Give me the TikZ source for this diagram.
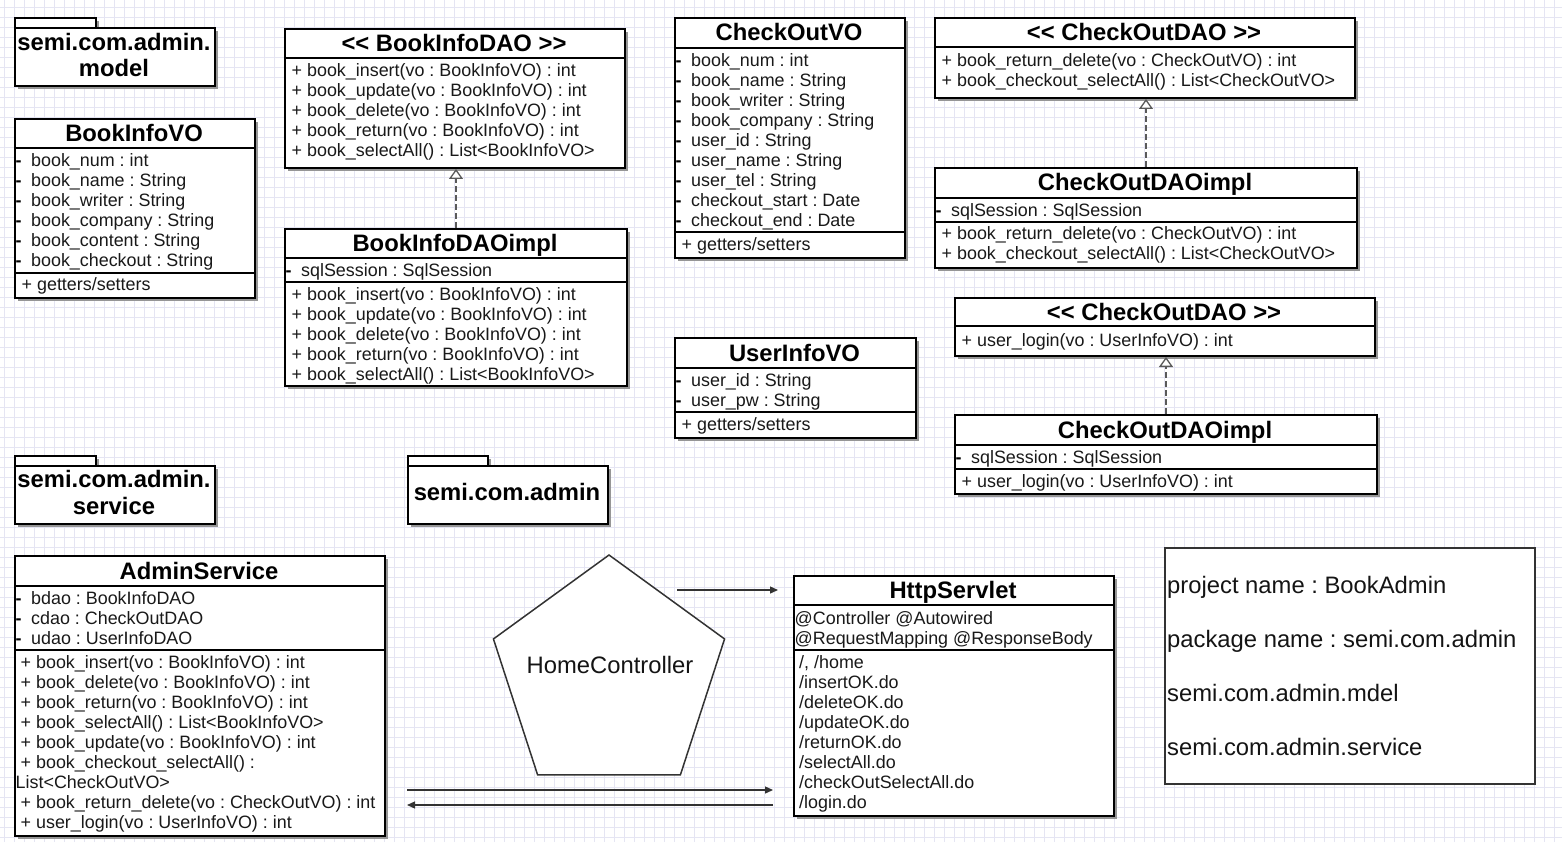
\documentclass[tikz,border=0pt]{standalone}
\usepackage{fontspec}
\setmainfont{Liberation Sans}
\usetikzlibrary{arrows.meta,shadows,shapes.geometric}
\definecolor{gridc}{RGB}{229,229,243}
\definecolor{shd}{RGB}{150,150,150}
\definecolor{dk}{RGB}{51,51,51}
\definecolor{dashc}{RGB}{90,90,90}
\frenchspacing
\tikzset{
  cbox/.style={draw=black, line width=2pt, fill=white, inner sep=0pt, anchor=north west,
    drop shadow={shadow xshift=3pt, shadow yshift=-3pt, fill=shd, opacity=1}},
  sepl/.style={draw=black, line width=2pt},
  ttl/.style={font=\bfseries\fontsize{23.8}{27}\selectfont, anchor=base, inner sep=0pt},
  ptxt/.style={font=\bfseries\fontsize{23.8}{27}\selectfont, anchor=base, inner sep=0pt},
  ltxt/.style={font=\fontsize{17.9}{20}\selectfont, text=black!90, anchor=base west, inner sep=0pt},
  big/.style={font=\fontsize{23.8}{27}\selectfont, text=black!92, anchor=base west, inner sep=0pt},
  flow/.style={draw=dk, line width=1.3pt, -{Triangle[length=8pt,width=7pt]}},
  impl/.style={draw=dashc, line width=1.8pt, dash pattern=on 6pt off 3pt,
    -{Triangle[open, length=10pt, width=14pt, fill=white, line width=1.3pt]}},
  pent/.style={regular polygon, regular polygon sides=5, draw=dk, line width=1.5pt, fill=white,
    minimum size=243pt, inner sep=0pt}
}
\newcommand\dm{\textcolor{black}{\textbf{-}}\hspace{9.5pt}}
\newcommand\cbx[5]{\node[cbox, minimum width=#4pt, minimum height=#5pt] (#1) at (#2,#3) {};}
\newcommand\ulines[4]{\foreach \t [count=\i] in {#4} {\node[ltxt] (#1-\i) at ({#2},{#3+6.4+20*(\i-1)}) {\t};}}
\begin{document}
\begin{tikzpicture}[x=1pt,y=-1pt]
\useasboundingbox (0,0) rectangle (1562,842);
\fill[white] (0,0) rectangle (1562,842);
\foreach \gx in {4,14,...,1554} \draw[gridc,line width=0.7pt] (\gx,0) -- (\gx,842);
\foreach \gy in {7,17,...,837} \draw[gridc,line width=0.7pt] (0,\gy) -- (1562,\gy);

% packages
\node[cbox, minimum width=81pt, minimum height=10pt] (pm-tab) at (14,17) {};
\node[cbox, minimum width=200pt, minimum height=58pt] (pm) at (14,27) {};
\node[ptxt] (pm-1) at (114,50.6) {semi.com.admin.};
\node[ptxt] (pm-2) at (114,76.6) {model};

\node[cbox, minimum width=81pt, minimum height=10pt] (ps-tab) at (14,455) {};
\node[cbox, minimum width=200pt, minimum height=58pt] (ps) at (14,465) {};
\node[ptxt] (ps-1) at (114,487.6) {semi.com.admin.};
\node[ptxt] (ps-2) at (114,514.6) {service};

\node[cbox, minimum width=80pt, minimum height=10pt] (pa-tab) at (407,455) {};
\node[cbox, minimum width=200pt, minimum height=58pt] (pa) at (407,465) {};
\node[ptxt] (pa-1) at (507,500.6) {semi.com.admin};

% BookInfoVO
\cbx{bvo}{14}{118}{240}{179}
\draw[sepl] (14,148) -- (254,148);
\draw[sepl] (14,273) -- (254,273);
\node[ttl] (bvo-t) at (134,141.6) {BookInfoVO};
\ulines{bvoa}{15.5}{160}{\dm book\_num : int, \dm book\_name : String, \dm book\_writer : String, \dm book\_company : String, \dm book\_content : String, \dm book\_checkout : String}
\ulines{bvom}{21.5}{284}{+ getters/setters}

% BookInfoDAO
\cbx{bdao}{284}{28}{340}{139}
\draw[sepl] (284,58) -- (624,58);
\node[ttl] (bdao-t) at (454,51.6) {<{}< BookInfoDAO >{}>};
\ulines{bdaom}{291.5}{70}{+ book\_insert(vo : BookInfoVO) : int, + book\_update(vo : BookInfoVO) : int, + book\_delete(vo : BookInfoVO) : int, + book\_return(vo : BookInfoVO) : int, + book\_selectAll() : List<BookInfoVO>}

% BookInfoDAOimpl
\cbx{bdaoi}{284}{228}{342}{157}
\draw[sepl] (284,258) -- (626,258);
\draw[sepl] (284,282) -- (626,282);
\node[ttl] (bdaoi-t) at (455,251.6) {BookInfoDAOimpl};
\ulines{bdaoia}{285.5}{270}{\dm sqlSession : SqlSession}
\ulines{bdaoim}{291.5}{294}{+ book\_insert(vo : BookInfoVO) : int, + book\_update(vo : BookInfoVO) : int, + book\_delete(vo : BookInfoVO) : int, + book\_return(vo : BookInfoVO) : int, + book\_selectAll() : List<BookInfoVO>}
\draw[impl] (bdaoi.north) -- (bdaoi.north |- bdao.south);

% CheckOutVO
\cbx{cvo}{674}{17}{230}{240}
\draw[sepl] (674,48) -- (904,48);
\draw[sepl] (674,232) -- (904,232);
\node[ttl] (cvo-t) at (789,41) {CheckOutVO};
\ulines{cvoa}{675.5}{60}{\dm book\_num : int, \dm book\_name : String, \dm book\_writer : String, \dm book\_company : String, \dm user\_id : String, \dm user\_name : String, \dm user\_tel : String, \dm checkout\_start : Date, \dm checkout\_end : Date}
\ulines{cvom}{681.5}{244}{+ getters/setters}

% CheckOutDAO (top)
\cbx{cdao}{934}{17}{420}{80}
\draw[sepl] (934,47) -- (1354,47);
\node[ttl] (cdao-t) at (1144,40.6) {<{}< CheckOutDAO >{}>};
\ulines{cdaom}{941.5}{60}{+ book\_return\_delete(vo : CheckOutVO) : int, + book\_checkout\_selectAll() : List<CheckOutVO>}

% CheckOutDAOimpl (top)
\cbx{cdaoi}{934}{167}{422}{100}
\draw[sepl] (934,198) -- (1356,198);
\draw[sepl] (934,222) -- (1356,222);
\node[ttl] (cdaoi-t) at (1145,191) {CheckOutDAOimpl};
\ulines{cdaoia}{935.5}{210}{\dm sqlSession : SqlSession}
\ulines{cdaoim}{941.5}{233.5}{+ book\_return\_delete(vo : CheckOutVO) : int, + book\_checkout\_selectAll() : List<CheckOutVO>}
\draw[impl] (cdaoi.north) -- (cdaoi.north |- cdao.south);

% CheckOutDAO (second)
\cbx{cdaob}{954}{297}{420}{58}
\draw[sepl] (954,326) -- (1374,326);
\node[ttl] (cdaob-t) at (1164,320) {<{}< CheckOutDAO >{}>};
\ulines{cdaobm}{961.5}{340}{+ user\_login(vo : UserInfoVO) : int}

% CheckOutDAOimpl (second)
\cbx{cdaoib}{954}{414}{422}{79}
\draw[sepl] (954,445) -- (1376,445);
\draw[sepl] (954,469) -- (1376,469);
\node[ttl] (cdaoib-t) at (1165,438) {CheckOutDAOimpl};
\ulines{cdaoiba}{955.5}{457}{\dm sqlSession : SqlSession}
\ulines{cdaoibm}{961.5}{481}{+ user\_login(vo : UserInfoVO) : int}
\draw[impl] (cdaoib.north) -- (cdaoib.north |- cdaob.south);

% UserInfoVO
\cbx{uvo}{674}{337}{241}{100}
\draw[sepl] (674,368) -- (915,368);
\draw[sepl] (674,412) -- (915,412);
\node[ttl] (uvo-t) at (794.5,361) {UserInfoVO};
\ulines{uvoa}{675.5}{380}{\dm user\_id : String, \dm user\_pw : String}
\ulines{uvom}{681.5}{424}{+ getters/setters}

% AdminService
\cbx{as}{14}{555}{370}{280}
\draw[sepl] (14,586) -- (384,586);
\draw[sepl] (14,650) -- (384,650);
\node[ttl] (as-t) at (199,579) {AdminService};
\ulines{asa}{15.5}{598}{\dm bdao : BookInfoDAO, \dm cdao : CheckOutDAO, \dm udao : UserInfoDAO}
\ulines{asm}{20.5}{662}{+ book\_insert(vo : BookInfoVO) : int, + book\_delete(vo : BookInfoVO) : int, + book\_return(vo : BookInfoVO) : int, + book\_selectAll() : List<BookInfoVO>, + book\_update(vo : BookInfoVO) : int, + book\_checkout\_selectAll() :}
\ulines{asl}{15.5}{782}{List<CheckOutVO>}
\ulines{asn}{20.5}{802}{+ book\_return\_delete(vo : CheckOutVO) : int, + user\_login(vo : UserInfoVO) : int}

% HttpServlet
\cbx{hs}{793}{575}{320}{240}
\draw[sepl] (793,605) -- (1113,605);
\draw[sepl] (793,650) -- (1113,650);
\node[ttl] (hs-t) at (953,598.6) {HttpServlet};
\ulines{hsa}{794.5}{618}{@Controller @Autowired, @RequestMapping @ResponseBody}
\ulines{hsm}{799}{662}{{/, /home}, /insertOK.do, /deleteOK.do, /updateOK.do, /returnOK.do, /selectAll.do, /checkOutSelectAll.do, /login.do}

% HomeController
\node[pent] (hc) at (609,676.5) {};
\node[font=\fontsize{23.8}{27}\selectfont, text=black!92, anchor=base, inner sep=0pt] (hc-t) at (610,673.6) {HomeController};

% arrows
\coordinate (f1s) at (677,590);
\coordinate (f1e) at (778,590);
\coordinate (f2s) at (407,790);
\coordinate (f2e) at (773,790);
\coordinate (f3s) at (773,805);
\coordinate (f3e) at (407,805);
\draw[flow] (f1s) -- (f1e);
\draw[flow] (f2s) -- (f2e);
\draw[flow] (f3s) -- (f3e);

% info box
\node[draw=dk, line width=2pt, fill=white, minimum width=370pt, minimum height=236pt, anchor=north west, inner sep=0pt] (info) at (1164,547) {};
\node[big] (info-1) at (1167,593.6) {project name : BookAdmin};
\node[big] (info-2) at (1167,647.6) {package name : semi.com.admin};
\node[big] (info-3) at (1167,701.6) {semi.com.admin.mdel};
\node[big] (info-4) at (1167,755.6) {semi.com.admin.service};
\end{tikzpicture}
\end{document}
